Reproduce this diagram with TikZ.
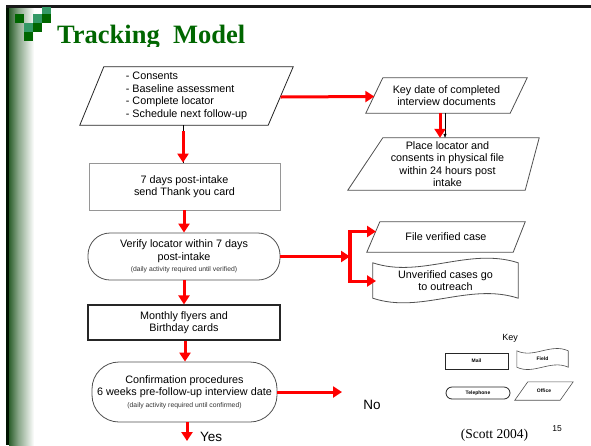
\documentclass[tikz,border=0pt]{standalone}
\usepackage{fontspec}
\setmainfont{Liberation Sans}
\newfontfamily\titlefont{Liberation Serif}
\usetikzlibrary{arrows.meta,calc}

\definecolor{slidegreen}{RGB}{0,102,0}
\definecolor{lightgreen}{RGB}{51,153,102}
\definecolor{barshade}{RGB}{45,95,45}
\definecolor{midshade}{RGB}{135,165,135}
\definecolor{flowred}{RGB}{255,0,0}
\definecolor{edgegray}{RGB}{80,80,80}
\definecolor{softgray}{RGB}{150,150,150}

% small print inside the rounded boxes
\newcommand\notefont{\fontsize{6.8}{8}\selectfont\color{black!80}}

% parallelogram drawn on a node's bounding box: #2 node, #3 left slant, #4 right slant
\newcommand\slantbox[4][]{%
  \draw[outline,#1] ($(#2.north west)+(#3,0)$) -- (#2.north east)
    -- ($(#2.south east)+(-#4,0)$) -- (#2.south west) -- cycle;}
% wavy-edged box on a node's bounding box: #2 node, #3 wave depth
\newcommand\wavebox[3][]{%
  \draw[outline,#1] (#2.north west)
    .. controls ($(#2.north west)!0.33!(#2.north east)+(0,#3)$) and ($(#2.north west)!0.66!(#2.north east)+(0,-#3)$) .. (#2.north east)
    -- (#2.south east)
    .. controls ($(#2.south west)!0.66!(#2.south east)+(0,-#3)$) and ($(#2.south west)!0.33!(#2.south east)+(0,#3)$) .. (#2.south west)
    -- cycle;}

\tikzset{
  flowtext/.style={inner sep=0pt, align=center, text=black,
    font=\fontsize{10.8}{12.5}\selectfont},
  outline/.style={draw=edgegray, line width=0.8pt},
  plainbox/.style={flowtext, draw=softgray, line width=0.8pt},
  darkbox/.style={flowtext, draw=black!85, line width=1.1pt},
  stadium/.style={flowtext, draw=edgegray, line width=0.8pt},
  keytext/.style={inner sep=0pt, align=center, text=black,
    font=\fontsize{5}{6}\selectfont\bfseries},
  redarrow/.style={draw=flowred, line width=3pt, -{Triangle[length=9pt,width=11pt]}},
  redbar/.style={draw=flowred, line width=4pt},
  thinlink/.style={draw=black, line width=0.6pt},
}

\begin{document}
\begin{tikzpicture}[x=1pt,y=-1pt]
\useasboundingbox (0,0) rectangle (591,445);
\fill[white] (0,0) rectangle (591,445);

% slide frame: shaded left margin, dark rules
\shade[left color=barshade, right color=midshade] (9,7) rectangle (18,445);
\shade[left color=midshade, right color=white] (18,7) rectangle (34,445);
\fill[black!80!slidegreen] (6,5) rectangle (9,445);
\fill[black!90] (6,5) rectangle (591,7.5);

% corner logo of green squares
\fill[slidegreen] (15,14) rectangle +(9,9);
\fill[lightgreen] (33,14) rectangle +(9,9);
\fill[slidegreen] (42,14) rectangle +(9,9);
\fill[lightgreen] (42,7) rectangle +(9,7);
\fill[lightgreen] (24,23) rectangle +(9,9);
\fill[slidegreen] (33,23) rectangle +(9,9);
\fill[slidegreen] (24,32) rectangle +(9,9);

% title, cut at the bottom of its band
\begin{scope}
  \clip (50,10) rectangle (320,46.5);
  \node[anchor=base west, inner sep=0pt, text=slidegreen,
        font=\titlefont\bfseries\fontsize{26.5}{26}\selectfont] (title) at (57,43) {Tracking\ \ Model};
\end{scope}

% flow boxes
\node[flowtext, align=left, minimum width=213pt, minimum height=58pt] (intake) at (186.5,96)
  {- Consents\\- Baseline assessment\\- Complete locator\\- Schedule next follow-up};
\slantbox[draw=black!85]{intake}{24}{25}

\node[flowtext, minimum width=161pt, minimum height=35pt] (keydate) at (446.5,95.5)
  {Key date of completed\\interview documents};
\slantbox{keydate}{17}{17}

\node[flowtext, minimum width=191pt, minimum height=52pt] (place) at (443.5,164)
  {\hspace*{8pt}Place locator and\\\hspace*{8pt}consents in physical file\\\hspace*{8pt}within 24 hours post\\\hspace*{8pt}intake};
\slantbox{place}{35}{14}

\node[plainbox, minimum width=191pt, minimum height=47pt] (thanks) at (184.5,186.5)
  {7 days post-intake\\send Thank you card};

\node[stadium, rounded corners=22pt, minimum width=192pt, minimum height=47pt] (verify) at (184,256.5)
  {Verify locator within 7 days\\post-intake\\[-1pt]{\notefont (daily activity required until verified)}};

\node[flowtext, minimum width=158pt, minimum height=30pt] (filed) at (446,237)
  {File verified case};
\slantbox{filed}{13}{12}

\node[flowtext, minimum width=145pt, minimum height=35pt] (outreach) at (445.5,280.5)
  {Unverified cases go\\to outreach};
\wavebox{outreach}{16}

\node[darkbox, minimum width=192pt, minimum height=35pt] (monthly) at (184,322.5)
  {Monthly flyers and\\Birthday cards};

\node[stadium, rounded corners=27pt, minimum width=185pt, minimum height=60pt] (confirm) at (184.5,392)
  {Confirmation procedures\\6 weeks pre-follow-up interview date\\[-1pt]{\notefont (daily activity required until confirmed)}};

% outcome labels
\node[anchor=center, inner sep=0pt, font=\fontsize{13.5}{14}\selectfont] (no) at (372,405) {No};
\node[anchor=west, inner sep=0pt, font=\fontsize{13.5}{14}\selectfont] (yes) at (200,437) {Yes};
\coordinate (noend) at (342,392);
\coordinate (yesend) at (187,441);

% connector anchor points
\coordinate (introot) at ($(intake.south)+(-3.5,0)$);
\coordinate (intstart) at ($(intake.south)+(-3.5,6)$);
\coordinate (keyblack) at ($(keydate.south)+(-1.5,0)$);
\coordinate (keyred) at ($(keydate.south)+(-6.5,0)$);
\coordinate (monroot) at ($(monthly.south)+(1,0)$);
\coordinate (confroot) at ($(confirm.south)+(2.5,0)$);
\coordinate (intright) at ($(intake.east)+(-12.5,1)$);
\coordinate (keyleft) at ($(keydate.west)+(8.5,1)$);

% connectors
\draw[thinlink] (introot) -- (introot |- thanks.north);
\draw[redarrow] (intstart) -- (introot |- thanks.north);

\draw[redarrow] (intright) -- (keyleft);

\draw[thinlink, -{Triangle[length=4pt,width=3pt]}] (keyblack) -- (keyblack |- place.north);
\draw[redarrow] (keyred) -- (keyred |- place.north);

\draw[redarrow] (verify.north |- thanks.south) -- (verify.north);

\coordinate (split) at (350,256.5);
\coordinate (upper) at (350,231.5);
\coordinate (lower) at (350,281);
\coordinate (upperend) at (376,231.5);
\coordinate (lowerend) at (376,281);
\draw[redarrow] (verify.east) -- (split);
\draw[redbar] ($(upper)+(0,-1.5)$) -- ($(lower)+(0,1.5)$);
\draw[redarrow] (upper) -- (upperend);
\draw[redarrow] (lower) -- (lowerend);

\draw[redarrow] (verify.south) -- (monthly.north);
\draw[redarrow] (monroot) -- (monroot |- confirm.north);
\draw[redarrow] (confirm.east) -- (noend);
\draw[redarrow] (confroot) -- (yesend);

% key of shapes
\node[inner sep=0pt, font=\fontsize{9}{10}\selectfont] (keyhead) at (510,338) {Key};
\node[keytext, draw=black!85, line width=1pt, minimum width=63pt, minimum height=16pt] (mail) at (476.5,361) {Mail};
\node[keytext, minimum width=51pt, minimum height=16pt] (field) at (542.5,359) {Field};
\wavebox[line width=0.6pt]{field}{8}
\node[keytext, draw=black!85, line width=0.8pt, rounded corners=6pt, minimum width=64pt, minimum height=12pt] (phone) at (478,393) {Telephone};
\node[keytext, minimum width=58pt, minimum height=18pt] (office) at (544,391) {Office};
\slantbox[line width=0.6pt]{office}{13}{13}

% source and page number
\node[anchor=center, inner sep=0pt, font=\titlefont\fontsize{13.5}{14}\selectfont] (source) at (494.5,435) {(Scott 2004)};
\node[anchor=center, inner sep=0pt, font=\fontsize{8.5}{9}\selectfont] (page) at (557,429) {15};
\end{tikzpicture}
\end{document}
